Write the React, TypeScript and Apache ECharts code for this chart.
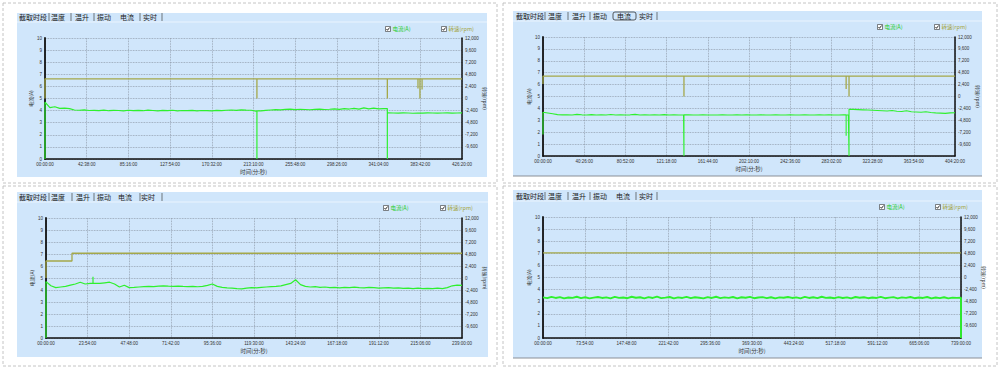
import React, { useEffect, useRef } from 'react';
import * as echarts from 'echarts';

// ---------------- data ----------------
const tabLabels = ['截取时段', '温度', '温升', '振动', '电流', '实时'];
const legendCurrent = '电流(A)';
const legendSpeed = '转速(rpm)';
const xName = '时间(分:秒)';

const p1Ticks = ['00:00:00', '42:38:00', '85:16:00', '127:54:00', '170:32:00', '213:10:00', '255:48:00', '298:26:00', '341:04:00', '383:42:00', '426:20:00'];
const p2Ticks = ['00:00:00', '40:26:00', '80:52:00', '121:18:00', '161:44:00', '202:10:00', '242:36:00', '283:02:00', '323:28:00', '363:54:00', '404:20:00'];
const p3Ticks = ['00:00:00', '23:54:00', '47:48:00', '71:42:00', '95:36:00', '119:30:00', '143:24:00', '167:18:00', '191:12:00', '215:06:00', '239:00:00'];
const p4Ticks = ['00:00:00', '73:54:00', '147:48:00', '221:42:00', '295:36:00', '369:30:00', '443:24:00', '517:18:00', '591:12:00', '665:06:00', '739:00:00'];

// durations in seconds
const p1Duration = 25580;
const p2Duration = 24260;
const p3Duration = 14340;
const p4Duration = 44340;

// current samples (A), evenly spaced over each duration
const cur1 = [
  4.70, 4.25, 4.32, 4.18, 4.20, 4.16, 4.05, 4.03, 4.06, 4.01,
  4.02, 4.00, 4.04, 3.99, 4.02, 4.01, 3.98, 4.03, 4.00, 4.02,
  3.99, 4.04, 4.01, 3.98, 4.02, 4.00, 4.03, 3.97, 4.01, 3.99,
  4.02, 3.98, 4.01, 4.00, 3.97, 4.02, 3.99, 4.03, 4.05, 4.02,
  4.06, 4.04, 4.03, 3.95, 3.98, 4.02, 4.05, 4.08, 4.06, 4.10,
  4.12, 4.08, 4.11, 4.09, 4.07, 4.10, 4.12, 4.09, 4.11, 4.14,
  4.10, 4.16, 4.13, 4.18, 4.12, 4.22, 4.15, 4.20, 4.14, 4.17,
  3.82, 3.80, 3.79, 3.81, 3.80, 3.78, 3.80, 3.79, 3.81, 3.80,
  3.79, 3.80, 3.81, 3.79, 3.80, 3.82,
];
const cur2 = [
  3.68, 3.62, 3.55, 3.48, 3.46, 3.47, 3.45, 3.50, 3.46, 3.45,
  3.48, 3.44, 3.46, 3.45, 3.49, 3.45, 3.47, 3.44, 3.46, 3.50,
  3.45, 3.47, 3.45, 3.46, 3.44, 3.48, 3.45, 3.46, 3.45, 3.44,
  3.46, 3.45, 3.44, 3.46, 3.45, 3.45, 3.44, 3.46, 3.45, 3.44,
  3.46, 3.45, 3.47, 3.44, 3.45, 3.46, 3.44, 3.45, 3.47, 3.45,
  3.44, 3.46, 3.45, 3.44, 3.47, 3.45, 3.44, 3.46, 3.45, 3.47,
  3.44, 3.45, 3.46, 3.45, 3.92, 3.90, 3.88, 3.86, 3.84, 3.82,
  3.80, 3.78, 3.82, 3.76, 3.74, 3.80, 3.72, 3.70, 3.68, 3.72,
  3.66, 3.62, 3.60, 3.58, 3.62, 3.64,
];
const cur3 = [
  4.70, 4.35, 4.20, 4.25, 4.30, 4.40, 4.50, 4.65, 4.50, 4.55,
  4.55, 4.55, 4.60, 4.65, 4.50, 4.25, 4.40, 4.20, 4.22, 4.25,
  4.28, 4.30, 4.28, 4.32, 4.35, 4.32, 4.30, 4.33, 4.30, 4.28,
  4.30, 4.27, 4.30, 4.38, 4.50, 4.30, 4.22, 4.18, 4.15, 4.12,
  4.10, 4.15, 4.20, 4.18, 4.22, 4.25, 4.28, 4.30, 4.35, 4.45,
  4.55, 4.85, 4.45, 4.30, 4.25, 4.28, 4.22, 4.25, 4.20, 4.22,
  4.18, 4.22, 4.20, 4.24, 4.20, 4.18, 4.22, 4.20, 4.16, 4.18,
  4.20, 4.15, 4.18, 4.14, 4.16, 4.12, 4.15, 4.12, 4.14, 4.12,
  4.15, 4.12, 4.20, 4.35, 4.40, 4.38,
];
const cur4 = [
  3.36, 3.29, 3.40, 3.31, 3.38, 3.27, 3.35, 3.32, 3.41, 3.30,
  3.37, 3.28, 3.34, 3.39, 3.31, 3.36, 3.27, 3.40, 3.32, 3.35,
  3.29, 3.41, 3.33, 3.37, 3.28, 3.38, 3.31, 3.42, 3.30, 3.34,
  3.39, 3.28, 3.36, 3.31, 3.40, 3.29, 3.37, 3.33, 3.27, 3.38,
  3.31, 3.41, 3.30, 3.36, 3.32, 3.39, 3.28, 3.37, 3.33, 3.40,
  3.29, 3.35, 3.38, 3.30, 3.37, 3.27, 3.36, 3.33, 3.39, 3.31,
  3.36, 3.28, 3.40, 3.31, 3.37, 3.30, 3.41, 3.32, 3.35, 3.29,
  3.38, 3.31, 3.36, 3.27, 3.39, 3.33, 3.37, 3.29, 3.35, 3.31,
  3.40, 3.29, 3.34, 3.38, 3.28, 3.36, 3.32, 3.39, 3.29, 3.35,
  3.31, 3.39, 3.28, 3.35, 3.30, 3.37, 3.27, 3.34, 3.32, 3.33,
];

// short current spikes: [time s, value A]
const cur1Spikes: [number, number][] = [[0, 0], [13000, 0], [21000, 0]];
const cur2Spikes: [number, number][] = [[0, 1.8], [8300, 0], [17850, 1.7], [18020, 0]];
const cur3Spikes: [number, number][] = [[0, 0], [1620, 5.1]];
const cur4Spikes: [number, number][] = [[44340, 0]];

// speed (rpm): [time s, rpm]
const speed1: [number, number][] = [
  [0, 0], [0, 3900], [13000, 3900], [13000, 0], [13000, 3900], [21000, 3900], [21000, 0], [21000, 3900],
  [22880, 3900], [22880, 2000], [22880, 3900], [23000, 3900], [23000, 0], [23000, 3900],
  [23130, 3900], [23130, 1800], [23130, 3900], [25580, 3900],
];
const speed2: [number, number][] = [
  [0, 2500], [0, 4100], [8300, 4100], [8300, 0], [8300, 4100], [17850, 4100], [17850, 1500], [17850, 4100],
  [18020, 4100], [18020, 0], [18020, 4100], [24260, 4100],
];
const speed3: [number, number][] = [[0, 0], [0, 3400], [896, 3400], [896, 4950], [14340, 4950]];
const speed4: [number, number][] = [[0, 4900], [44340, 4900]];

// ---------------- helpers ----------------
function buildCurrent(samples: number[], duration: number, spikes: [number, number][]) {
  const n = samples.length;
  const step = duration / (n - 1);
  const pts: [number, number][] = [];
  const sorted = [...spikes].sort((a, b) => a[0] - b[0]);
  let s = 0;
  for (let i = 0; i < n; i++) {
    const t = i * step;
    while (s < sorted.length && sorted[s][0] < t) {
      const [st, sv] = sorted[s];
      const before = samples[Math.max(0, i - 1)];
      pts.push([st, before], [st, sv], [st, samples[i]]);
      s++;
    }
    if (s < sorted.length && sorted[s][0] === t && i === 0) {
      pts.push([t, sorted[s][1]]);
      s++;
    }
    pts.push([t, samples[i]]);
  }
  while (s < sorted.length) {
    pts.push([sorted[s][0], sorted[s][1]]);
    s++;
  }
  return pts;
}

const fmtRpm = (v: number) => (v === -12000 ? '' : v.toLocaleString('en-US'));

type Panel = {
  ticks: string[];
  duration: number;
  cur: [number, number][];
  speed: [number, number][];
  grid: { left: number; top: number; width: number; height: number };
  curWidth: number;
};

const panels: Panel[] = [
  { ticks: p1Ticks, duration: p1Duration, cur: buildCurrent(cur1, p1Duration, cur1Spikes), speed: speed1, grid: { left: 45, top: 38, width: 417, height: 121 }, curWidth: 1.2 },
  { ticks: p2Ticks, duration: p2Duration, cur: buildCurrent(cur2, p2Duration, cur2Spikes), speed: speed2, grid: { left: 543, top: 37, width: 412, height: 119 }, curWidth: 1.1 },
  { ticks: p3Ticks, duration: p3Duration, cur: buildCurrent(cur3, p3Duration, cur3Spikes), speed: speed3, grid: { left: 46, top: 218, width: 416, height: 120 }, curWidth: 1.2 },
  { ticks: p4Ticks, duration: p4Duration, cur: buildCurrent(cur4, p4Duration, cur4Spikes), speed: speed4, grid: { left: 543, top: 217, width: 418, height: 121 }, curWidth: 1.9 },
];

type Frame = {
  border: [number, number, number, number];
  bg: [number, number, number, number];
  shadow: boolean;
  tabY: number;
  tabX: number[];
  seps: number[];
  box: [number, number, number, number] | null;
  legendY: number;
  legendX: [number, number];
};

const frames: Frame[] = [
  { border: [3, 3, 494, 180], bg: [17, 13, 470, 164], shadow: false, tabY: 17, tabX: [19, 51, 75, 97, 120, 143], seps: [49, 71, 94, 140, 162], box: null, legendY: 29, legendX: [388, 444] },
  { border: [503, 3, 494, 180], bg: [513, 11, 469, 165], shadow: true, tabY: 16, tabX: [516, 548, 572, 593, 617, 639], seps: [545, 568, 590, 657], box: [613, 12, 23, 8], legendY: 27, legendX: [880, 937] },
  { border: [3, 186, 494, 180], bg: [17, 192, 471, 165], shadow: false, tabY: 197, tabX: [19, 51, 76, 97, 118, 141], seps: [49, 72, 94, 140, 162], box: null, legendY: 208, legendX: [386, 443] },
  { border: [503, 186, 494, 180], bg: [513, 190, 469, 168], shadow: true, tabY: 196, tabX: [516, 548, 572, 593, 616, 639], seps: [545, 568, 590, 636, 657], box: null, legendY: 207, legendX: [882, 938] },
];

const BG = '#d0e6fb';
const GREEN = '#2ef02e';
const OLIVE = '#a4a84a';
const GRIDC = '#8e99a8';

function frameGraphics(f: Frame) {
  const els: any[] = [];
  els.push({ type: 'rect', z: -20, shape: { x: f.border[0], y: f.border[1], width: f.border[2], height: f.border[3] }, style: { fill: '#fff', stroke: '#c4c4c4', lineWidth: 1, lineDash: [3, 2] } });
  els.push({ type: 'rect', z: -19, shape: { x: f.bg[0], y: f.bg[1], width: f.bg[2], height: f.bg[3] }, style: { fill: BG } });
  els.push({ type: 'line', z: -18, shape: { x1: f.bg[0], y1: f.tabY + 5, x2: f.bg[0] + f.bg[2], y2: f.tabY + 5 }, style: { stroke: '#eaf4fe', lineWidth: 1 } });
  if (f.shadow) {
    els.push({ type: 'line', z: -18, shape: { x1: f.bg[0], y1: f.bg[1] + f.bg[3], x2: f.bg[0] + f.bg[2], y2: f.bg[1] + f.bg[3] }, style: { stroke: '#8a8f96', lineWidth: 1 } });
  }
  tabLabels.forEach((t, i) => {
    els.push({ type: 'text', z: 10, style: { text: t, x: f.tabX[i], y: f.tabY, fontSize: 7, fill: '#222', verticalAlign: 'middle', fontFamily: 'Noto Sans CJK SC' } });
  });
  f.seps.forEach((x) => {
    els.push({ type: 'line', z: 10, shape: { x1: x, y1: f.tabY - 4, x2: x, y2: f.tabY + 4 }, style: { stroke: '#444', lineWidth: 0.7 } });
  });
  if (f.box) {
    els.push({ type: 'rect', z: 10, shape: { x: f.box[0], y: f.box[1], width: f.box[2], height: f.box[3], r: 2 }, style: { fill: 'none', stroke: '#333', lineWidth: 0.8 } });
  }
  const items: [string, string][] = [[legendCurrent, '#1ccc1c'], [legendSpeed, '#a3a33a']];
  items.forEach(([label, color], i) => {
    const x = f.legendX[i];
    const y = f.legendY;
    els.push({ type: 'rect', z: 10, shape: { x: x - 2.5, y: y - 2.5, width: 5, height: 5 }, style: { fill: '#fff', stroke: '#333', lineWidth: 0.6 } });
    els.push({ type: 'polyline', z: 11, shape: { points: [[x - 1.5, y], [x - 0.5, y + 1.3], [x + 1.6, y - 1.5]] }, style: { stroke: '#000', lineWidth: 0.8, fill: 'none' } });
    els.push({ type: 'text', z: 10, style: { text: label, x: x + 4.5, y, fontSize: 5.5, fill: color, verticalAlign: 'middle', fontFamily: 'Noto Sans CJK SC' } });
  });
  return els;
}

function buildOption() {
  const grid: any[] = [];
  const xAxis: any[] = [];
  const yAxis: any[] = [];
  const series: any[] = [];
  const labelStyle = { fontSize: 4.5, color: '#333', fontFamily: 'Liberation Sans' };
  panels.forEach((p, i) => {
    grid.push({ ...p.grid, containLabel: false });
    const interval = p.duration / 10;
    xAxis.push({
      gridIndex: i, type: 'value', min: 0, max: p.duration, interval,
      axisLine: { show: true, lineStyle: { color: '#111', width: 1.5 } },
      axisTick: { show: false },
      splitLine: { show: true, lineStyle: { color: GRIDC, type: 'dotted', width: 0.8 } },
      axisLabel: { ...labelStyle, margin: 3, showMinLabel: true, showMaxLabel: true, formatter: (v: number) => p.ticks[Math.round(v / interval)] ?? '' },
      name: xName, nameLocation: 'middle', nameGap: 10,
      nameTextStyle: { fontSize: 5.5, color: '#333', fontFamily: 'Noto Sans CJK SC' },
    });
    yAxis.push({
      gridIndex: i, type: 'value', min: 0, max: 10, interval: 1, position: 'left',
      axisLine: { show: true, lineStyle: { color: '#111', width: 1.8 } },
      axisTick: { show: false },
      splitLine: { show: true, lineStyle: { color: GRIDC, type: 'dotted', width: 0.8 } },
      axisLabel: { ...labelStyle, margin: 3 },
      name: legendCurrent, nameLocation: 'middle', nameGap: 9, nameRotate: 90,
      nameTextStyle: { fontSize: 5, color: '#333', fontFamily: 'Noto Sans CJK SC' },
    });
    yAxis.push({
      gridIndex: i, type: 'value', min: -12000, max: 12000, interval: 2400, position: 'right',
      axisLine: { show: true, lineStyle: { color: '#111', width: 1.5 } },
      axisTick: { show: false },
      splitLine: { show: false },
      axisLabel: { ...labelStyle, margin: 3, formatter: fmtRpm },
      name: legendSpeed, nameLocation: 'middle', nameGap: 19, nameRotate: -90,
      nameTextStyle: { fontSize: 5, color: '#333', fontFamily: 'Noto Sans CJK SC' },
    });
    series.push({
      type: 'line', name: legendSpeed, xAxisIndex: i, yAxisIndex: 2 * i + 1, data: p.speed,
      showSymbol: false, symbol: 'none', lineStyle: { color: OLIVE, width: 1.3 }, z: 3,
    });
    series.push({
      type: 'line', name: legendCurrent, xAxisIndex: i, yAxisIndex: 2 * i, data: p.cur,
      showSymbol: false, symbol: 'none', lineStyle: { color: GREEN, width: p.curWidth }, z: 4,
    });
  });
  const graphic = frames.flatMap(frameGraphics);
  return { animation: false, backgroundColor: '#fff', grid, xAxis, yAxis, series, graphic };
}

export default function App() {
  const ref = useRef<HTMLDivElement>(null);
  useEffect(() => {
    if (!ref.current) return;
    const chart = echarts.init(ref.current, undefined, { renderer: 'svg' });
    chart.setOption(buildOption() as any);
    return () => chart.dispose();
  }, []);
  return <div ref={ref} style={{ position: 'absolute', left: 0, top: 0, width: 1000, height: 369 }} />;
}
